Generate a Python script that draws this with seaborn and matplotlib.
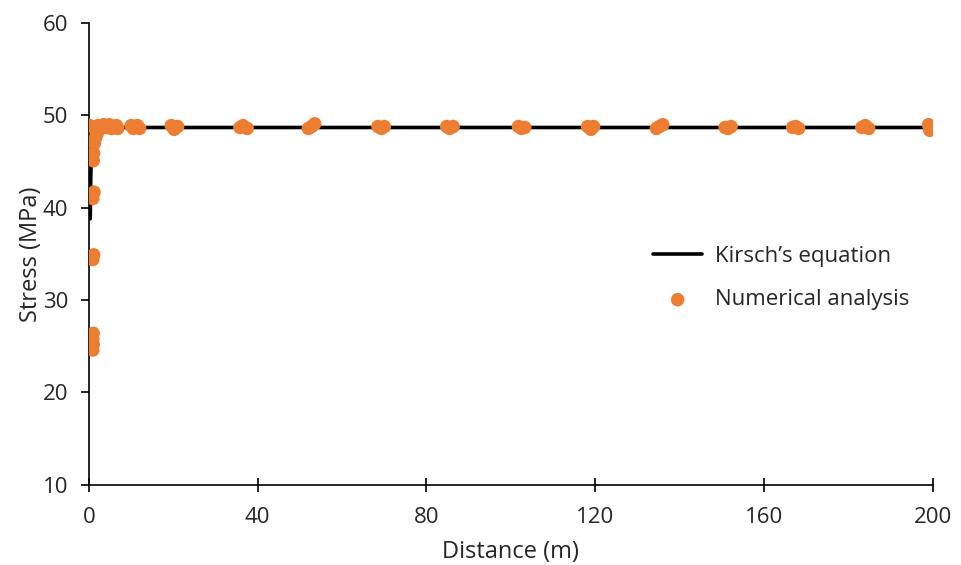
import matplotlib
matplotlib.use("Agg")
import matplotlib.pyplot as plt
import seaborn as sns
import pandas as pd

# Kirsch's equation
kirsch_x = [0.30, 0.35, 0.40, 0.45, 0.50, 0.60, 0.80, 1.00, 1.50, 2.0, 3.0, 5.0, 10.0, 50.0, 100.0, 200.0]
kirsch_y = [38.8, 41.0, 42.6, 43.9, 44.9, 46.0, 47.2, 47.8, 48.3, 48.5, 48.6, 48.7, 48.7, 48.7, 48.7, 48.7]

# Numerical analysis points (estimated)
num_x = [0.9, 1.0, 0.9, 1.0,
         0.9, 1.1,
         0.9, 1.2,
         1.0, 1.1, 1.3, 1.6, 2.0,
         0.2, 1.2, 2.2, 2.8, 3.5, 4.2, 4.8, 5.3, 6.5, 6.8,
         10.0, 10.5, 11.5, 12.0,
         19.5, 20.2, 21.0,
         35.8, 36.5, 37.5,
         52.0, 52.8, 53.5,
         68.5, 69.3, 70.0,
         84.8, 85.5, 86.3,
         101.8, 102.5, 103.3,
         118.2, 119.0, 119.6,
         134.5, 135.2, 136.0,
         150.8, 151.5, 152.2,
         166.8, 167.5, 168.2,
         183.2, 184.0, 184.8,
         199.0, 199.3]
num_y = [24.6, 25.2, 25.8, 26.4,
         34.4, 34.9,
         41.0, 41.7,
         45.1, 45.9, 47.0, 47.6, 48.1,
         48.9, 48.7, 48.9, 48.6, 49.0, 48.7, 49.0, 48.6, 48.9, 48.6,
         48.9, 48.6, 48.9, 48.6,
         48.9, 48.5, 48.8,
         48.7, 48.9, 48.6,
         48.6, 48.8, 49.1,
         48.8, 48.6, 48.8,
         48.8, 48.6, 48.8,
         48.8, 48.6, 48.7,
         48.8, 48.5, 48.8,
         48.6, 48.8, 49.0,
         48.7, 48.6, 48.8,
         48.7, 48.8, 48.6,
         48.7, 48.9, 48.6,
         49.0, 48.4]

x_ticks = [0, 40, 80, 120, 160, 200]
y_ticks = [10, 20, 30, 40, 50, 60]

sns.set_theme(style="white")
plt.rcParams['font.family'] = ['Open Sans', 'DejaVu Sans']

fig = plt.figure(figsize=(9.61, 5.65), dpi=100)
ax = fig.add_axes([0.0926, 0.142, 0.878, 0.817])

kdf = pd.DataFrame({"x": kirsch_x, "y": kirsch_y})
ndf = pd.DataFrame({"x": num_x, "y": num_y})

sns.lineplot(data=kdf, x="x", y="y", ax=ax, color="black", linewidth=2.6,
             label="Kirsch\u2019s equation", zorder=2, sort=False)
sns.scatterplot(data=ndf, x="x", y="y", ax=ax, color="#ED7D31", s=95,
                linewidth=0, edgecolor="none", label="Numerical analysis", zorder=3)

ax.set_xlim(0, 200)
ax.set_ylim(10, 60)
ax.set_xticks(x_ticks)
ax.set_yticks(y_ticks)
ax.set_xlabel("Distance (m)", fontsize=17, color="#262626", labelpad=9)
ax.set_ylabel("Stress (MPa)", fontsize=17, color="#262626", labelpad=0)

for s in ["top", "right"]:
    ax.spines[s].set_visible(False)
for s in ["left", "bottom"]:
    ax.spines[s].set_color("black")
    ax.spines[s].set_linewidth(1.2)

ax.tick_params(axis="y", direction="out", length=6, width=1.2, color="black",
               labelsize=16, labelcolor="#262626", left=True, pad=9)
ax.tick_params(axis="x", direction="inout", length=10, width=1.2, color="black",
               labelsize=16, labelcolor="#262626", bottom=True, pad=11)

leg = ax.legend(loc="upper left", bbox_to_anchor=(0.645, 0.56), frameon=False,
                fontsize=16, handlelength=2.2, handletextpad=0.6,
                labelspacing=1.0, markerscale=1.0)

fig.savefig("out.png", dpi=100)
